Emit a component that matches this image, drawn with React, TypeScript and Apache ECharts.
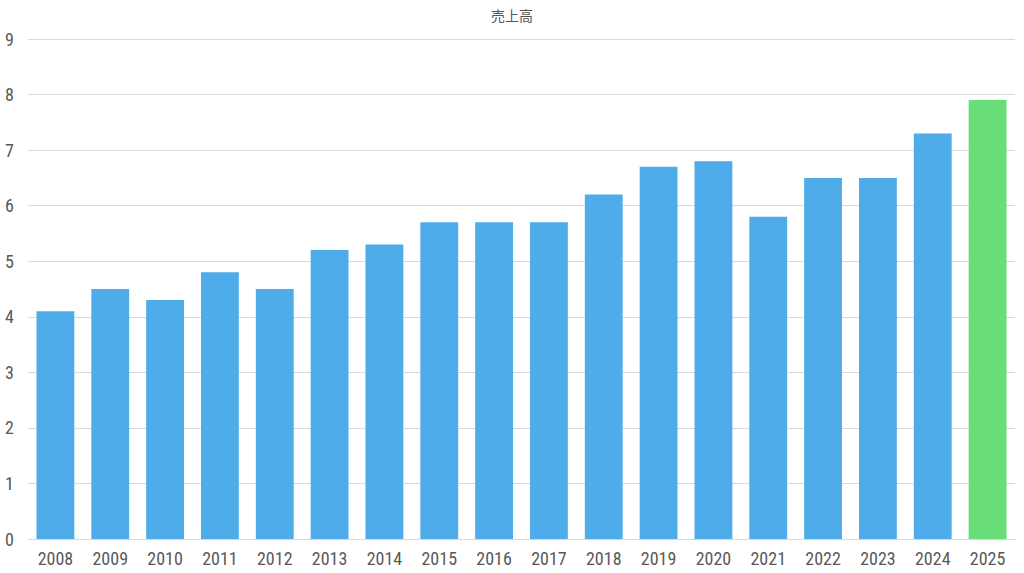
import React, { useEffect, useRef } from "react";
import * as echarts from "echarts";

const title = "売上高";
const years = ["2008","2009","2010","2011","2012","2013","2014","2015","2016","2017","2018","2019","2020","2021","2022","2023","2024","2025"];
const sales = [4.1, 4.5, 4.3, 4.8, 4.5, 5.2, 5.3, 5.7, 5.7, 5.7, 6.2, 6.7, 6.8, 5.8, 6.5, 6.5, 7.3, 7.9];
const highlightYear = "2025";

const FONT = "'Liberation Sans Narrow', 'Roboto Condensed', Roboto, sans-serif";

export default function App() {
  const ref = useRef<HTMLDivElement>(null);
  useEffect(() => {
    if (!ref.current) return;
    const chart = echarts.init(ref.current, undefined, { renderer: "svg" });
    chart.setOption({
      animation: false,
      backgroundColor: "#ffffff",
      title: {
        text: title,
        left: "center",
        top: 3,
        textStyle: { fontSize: 14, fontWeight: "normal", color: "#555555", fontFamily: "'Noto Sans CJK JP', sans-serif" },
      },
      grid: { left: 28, right: 9, top: 39, bottom: 34, containLabel: false },
      xAxis: {
        type: "category",
        data: years,
        axisLine: { show: true, lineStyle: { color: "#d9d9d9", width: 1 } },
        axisTick: { show: false },
        axisLabel: { color: "#595959", fontSize: 18, fontFamily: FONT, margin: 10 },
      },
      yAxis: {
        type: "value",
        min: 0,
        max: 9,
        interval: 1,
        axisLine: { show: false },
        axisTick: { show: false },
        splitLine: { lineStyle: { color: "#d9d9d9", width: 1 } },
        axisLabel: { color: "#595959", fontSize: 18, fontFamily: FONT, margin: 14 },
      },
      series: [
        {
          type: "bar",
          barWidth: "69%",
          data: sales.map((v, i) => ({
            value: v,
            itemStyle: { color: years[i] === highlightYear ? "#69DD78" : "#4DACE9" },
          })),
        },
      ],
    });
    return () => chart.dispose();
  }, []);
  return <div ref={ref} style={{ width: 1024, height: 573, position: "absolute", left: 0, top: 0 }} />;
}
